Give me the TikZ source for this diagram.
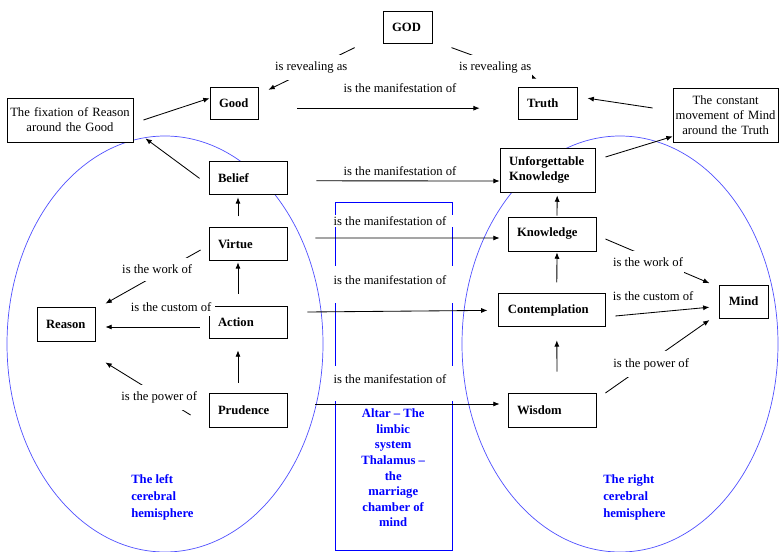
\documentclass[tikz,border=0pt]{standalone}
\usepackage{fontspec}
\setmainfont{Liberation Serif}
\usepackage{xcolor}
\definecolor{hemiBlue}{HTML}{4F4FFF}
\definecolor{altarBlue}{HTML}{0000FF}
\usetikzlibrary{arrows.meta}
\newcommand{\diagfont}{\fontsize{9}{10.8}\selectfont}
\tikzset{
  concept/.style={draw, fill=white, line width=0.6pt, font=\diagfont\bfseries, align=left, inner xsep=0.225cm, inner ysep=0pt},
  note/.style={draw, fill=white, line width=0.6pt, font=\diagfont, align=center, inner sep=0pt},
  rel/.style={fill=white, font=\diagfont, inner xsep=0.02cm, inner ysep=0.17cm},
  manif/.style={fill=white, font=\diagfont, inner xsep=0.05cm, inner ysep=0.03cm},
  link/.style={-{Latex[length=4.5pt,width=3.6pt]}, line width=0.6pt},
  hemi/.style={draw=hemiBlue, line width=0.5pt},
  bluetext/.style={text=altarBlue, font=\fontsize{9}{12}\selectfont\bfseries, align=left, inner sep=0pt}
}

\begin{document}
\begin{tikzpicture}
  \useasboundingbox (0cm,0cm) rectangle (19.475cm,-13.8cm);
  \draw[hemi] (4.125cm,-8.6cm) ellipse (3.95cm and 5.2cm);
  \draw[hemi] (15.5cm,-8.6cm) ellipse (3.95cm and 5.2cm);
  \draw[draw=altarBlue, line width=0.6pt] (8.375cm,-5.05cm) rectangle (11.3cm,-13.75cm);

  \node[concept, text width=0.775cm, minimum height=0.8cm] (god) at (10.19cm,-0.68cm) {GOD};
  \node[concept, text width=0.75cm, minimum height=0.8cm] (good) at (5.85cm,-2.58cm) {Good};
  \node[concept, text width=1.025cm, minimum height=0.8cm] (truth) at (13.69cm,-2.58cm) {Truth};
  \node[note, text width=3.15cm, minimum height=1.1cm] (fixation) at (1.75cm,-3.0cm) {The fixation of Reason\\around the Good};
  \node[note, text width=2.625cm, minimum height=1.35cm] (movement) at (18.14cm,-2.875cm) {The constant\\movement of Mind\\around the Truth};
  \node[concept, text width=1.5cm, minimum height=0.825cm] (belief) at (6.2cm,-4.46cm) {Belief};
  \node[concept, text width=1.925cm, minimum height=1.1cm] (unforget) at (13.69cm,-4.25cm) {Unforgettable\\Knowledge};
  \node[concept, text width=1.5cm, minimum height=0.825cm] (virtue) at (6.2cm,-6.11cm) {Virtue};
  \node[concept, text width=1.75cm, minimum height=0.85cm] (knowledge) at (13.8cm,-5.85cm) {Knowledge};
  \node[concept, text width=1.5cm, minimum height=0.8cm] (action) at (6.2cm,-8.05cm) {Action};
  \node[concept, text width=1.0cm, minimum height=0.85cm] (reason) at (1.65cm,-8.1cm) {Reason};
  \node[concept, text width=2.225cm, minimum height=0.825cm] (contemplation) at (13.81cm,-7.76cm) {Contemplation};
  \node[concept, text width=0.775cm, minimum height=0.825cm] (mind) at (18.61cm,-7.54cm) {Mind};
  \node[concept, text width=1.5cm, minimum height=0.85cm] (prudence) at (6.2cm,-10.25cm) {Prudence};
  \node[concept, text width=1.75cm, minimum height=0.85cm] (wisdom) at (13.8cm,-10.25cm) {Wisdom};

  \node[bluetext, align=center, font=\fontsize{9}{11.1}\selectfont\bfseries] (altar) at (9.83cm,-11.7cm) {Altar – The\\limbic\\system\\Thalamus –\\the\\marriage\\chamber of\\mind};
  \node[bluetext, anchor=west] (lefthemi) at (3.275cm,-12.43cm) {The left\\cerebral\\hemisphere};
  \node[bluetext, anchor=west] (righthemi) at (15.075cm,-12.43cm) {The right\\cerebral\\hemisphere};

  \draw[link] ([xshift=-0.7cm,yshift=-0.1cm]god.south west) -- ([xshift=0.25cm,yshift=-0.075cm]good.north east);
  \draw[link] ([xshift=0.475cm,yshift=-0.1cm]god.south east) -- ([xshift=0.475cm,yshift=0.2cm]truth.north west);
  \draw[link] ([xshift=0.25cm]fixation.east) -- ([yshift=0.125cm]good.west);
  \draw[link] ([xshift=-0.225cm]belief.west) -- ([xshift=0.3cm,yshift=0.1cm]fixation.south east);
  \draw[link] ([xshift=0.975cm,yshift=-0.125cm]good.east) -- ([xshift=-0.95cm,yshift=-0.125cm]truth.west);
  \draw[link] ([xshift=-0.5cm,yshift=0.175cm]movement.west) -- ([xshift=0.25cm,yshift=0.125cm]truth.east);
  \draw[link] ([xshift=0.25cm,yshift=0.325cm]unforget.east) -- ([yshift=0.15cm]movement.south west);
  \draw[link] ([xshift=0.725cm,yshift=-0.06cm]belief.east) -- ([yshift=-0.275cm]unforget.west);
  \draw[link] ([xshift=-0.25cm,yshift=0.275cm]virtue.north) -- ([xshift=-0.25cm,yshift=-0.05cm]belief.south);
  \draw[link] ([xshift=-0.25cm,yshift=0.3cm]action.north) -- ([xshift=-0.25cm,yshift=-0.025cm]virtue.south);
  \draw[link] ([xshift=-0.25cm,yshift=0.25cm]prudence.north) -- ([xshift=-0.25cm,yshift=-0.3cm]action.south);
  \draw[link] ([xshift=-0.2cm,yshift=-0.14cm]virtue.west) -- ([xshift=0.25cm,yshift=0.075cm]reason.north east);
  \draw[link] ([xshift=-0.225cm,yshift=-0.125cm]action.west) -- ([xshift=0.25cm,yshift=-0.075cm]reason.east);
  \draw[link] ([xshift=-0.45cm,yshift=-0.125cm]prudence.west) -- ([xshift=0.25cm,yshift=-0.525cm]reason.south east);
  \draw[link] ([xshift=0.7cm,yshift=0.16cm]virtue.east) -- ([xshift=-0.2cm,yshift=-0.1cm]knowledge.west);
  \draw[link] ([xshift=0.125cm,yshift=0.025cm]knowledge.north) -- ([xshift=0.24cm,yshift=-0.075cm]unforget.south);
  \draw[link] ([xshift=0.5cm,yshift=0.25cm]action.east) -- ([xshift=-0.275cm]contemplation.west);
  \draw[link] ([xshift=0.11cm,yshift=0.275cm]contemplation.north) -- ([xshift=0.125cm,yshift=-0.025cm]knowledge.south);
  \draw[link] ([xshift=0.125cm,yshift=0.525cm]wisdom.north) -- ([xshift=0.11cm,yshift=-0.325cm]contemplation.south);
  \draw[link] ([xshift=0.7cm,yshift=0.15cm]prudence.east) -- ([xshift=-0.2cm,yshift=0.15cm]wisdom.west);
  \draw[link] ([xshift=0.225cm,yshift=-0.125cm]knowledge.east) -- ([xshift=-0.25cm,yshift=0.46cm]mind.west);
  \draw[link] ([xshift=0.225cm,yshift=-0.14cm]contemplation.east) -- ([xshift=-0.25cm,yshift=-0.14cm]mind.west);
  \draw[link] ([xshift=0.225cm,yshift=0.425cm]wisdom.east) -- ([xshift=-0.25cm,yshift=-0.46cm]mind.west);

  \node[rel] (revgood) at (7.78cm,-1.68cm) {is revealing as};
  \node[rel] (revtruth) at (12.38cm,-1.68cm) {is revealing as};
  \node[manif] (manif1) at (10.0cm,-2.2cm) {is the manifestation of};
  \node[manif] (manif2) at (10.0cm,-4.28cm) {is the manifestation of};
  \node[manif, inner xsep=0.2cm] (manif3) at (9.75cm,-5.53cm) {is the manifestation of};
  \node[manif, inner xsep=0.2cm, anchor=base, text height=0.42cm, text depth=0.45cm] (manif4) at (9.75cm,-7.1cm) {is the manifestation of};
  \node[manif, inner xsep=0.2cm, anchor=base, text height=0.4cm, text depth=0.43cm] (manif5) at (9.75cm,-9.575cm) {is the manifestation of};
  \node[rel] (workleft) at (3.93cm,-6.73cm) {is the work of};
  \node[rel, inner xsep=0.1cm, inner ysep=0.1cm] (customleft) at (4.28cm,-7.68cm) {is the custom of};
  \node[rel] (powerleft) at (3.98cm,-9.93cm) {is the power of};
  \node[rel] (workright) at (16.2cm,-6.55cm) {is the work of};
  \node[rel, inner ysep=0.08cm] (customright) at (16.33cm,-7.4cm) {is the custom of};
  \node[rel] (powerright) at (16.28cm,-9.1cm) {is the power of};
\end{tikzpicture}
\end{document}
